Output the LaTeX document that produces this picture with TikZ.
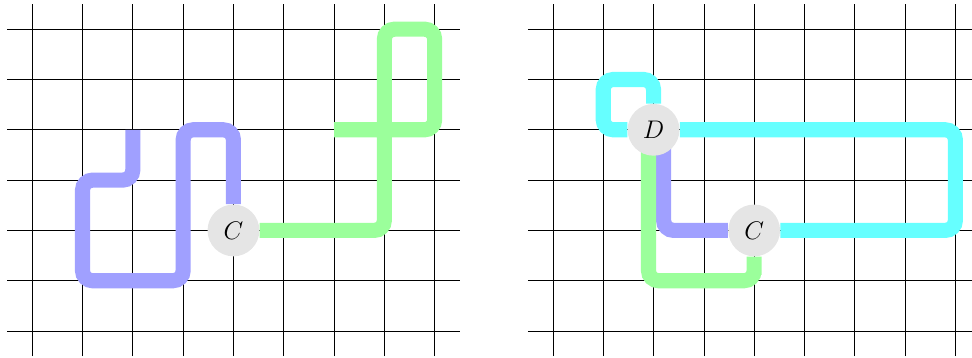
\documentclass[tikz,border=0pt]{standalone}
\usetikzlibrary{backgrounds}
\definecolor{wireblue}{RGB}{160,160,255}
\definecolor{wiregreen}{RGB}{155,255,155}
\definecolor{wirecyan}{RGB}{102,255,255}
\begin{document}
\begin{tikzpicture}[
    route/.style={line width=3mm, rounded corners=2mm},
    junction/.style={circle, fill=gray!20, minimum size=10.3mm, inner sep=0pt, font=\Large}
]
    \useasboundingbox (-0.64,-0.53) rectangle (18.68,6.58);
    % left board
    \node[junction] (cL) at (4,2) {$C$};
    \begin{scope}[on background layer]
        \foreach \x in {0,...,8} {
            \draw (\x,-0.5) -- (\x,6.5);
        }
        \foreach \y in {0,...,6} {
            \draw (-0.5,\y) -- (8.5,\y);
        }
        \draw[route, wireblue] (2,4) -- (2,3) -- (1,3) -- (1,1) -- (3,1) -- (3,4) -- (4,4) -- (cL);
        \draw[route, wiregreen] (cL) -- (7,2) -- (7,6) -- (8,6) -- (8,4) -- (6,4);
    \end{scope}
    % right board
    \begin{scope}[xshift=10.35cm]
        \node[junction] (dR) at (2,4) {$D$};
        \node[junction] (cR) at (4,2) {$C$};
        \begin{scope}[on background layer]
            \foreach \x in {0,...,8} {
                \draw (\x,-0.5) -- (\x,6.5);
            }
            \foreach \y in {0,...,6} {
                \draw (-0.5,\y) -- (8.5,\y);
            }
            \draw[route, wirecyan] (dR) -- (2,5) -- (1,5) -- (1,4) -- (dR);
            \draw[route, wirecyan] (dR) -- (8,4) -- (8,2) -- (cR);
            \draw[route, wireblue] ([xshift=2mm]dR.center) |- (cR);
            \draw[route, wiregreen] ([xshift=-1mm]dR.center) |- (4,1) -| (cR);
        \end{scope}
    \end{scope}
\end{tikzpicture}
\end{document}
